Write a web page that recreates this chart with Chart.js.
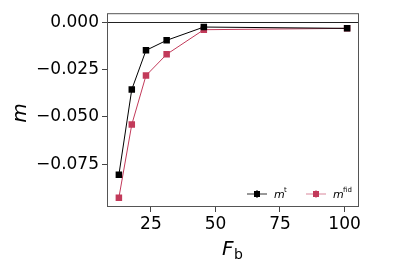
<!DOCTYPE html>
<html>
<head>
<meta charset="utf-8">
<script src="https://cdn.jsdelivr.net/npm/chart.js"></script>
<style>
    html, body { margin: 0; padding: 0; background: #fff; }
    #wrap { width: 399px; height: 266px; }
</style>
</head>
<body>
<div id="wrap"><canvas id="chart" width="399" height="266"></canvas></div>
<script>
// values
const fb = [12.6, 17.6, 23.1, 31.1, 45.5, 101];
const mTrue = [-0.0805, -0.0355, -0.0149, -0.0096, -0.0026, -0.0033];
const mFid = [-0.0926, -0.0540, -0.0282, -0.0170, -0.0040, -0.0033];
const xTicks = [25, 50, 75, 100];
const yTicks = [0, -0.025, -0.05, -0.075];

const RED = '#c23a5a';
const FONT = '"DejaVu Sans", sans-serif';

function pts(ys) {
    return fb.map((x, i) => ({ x: x, y: ys[i] }));
}

// frame, zero line, axis titles and legend
const extras = {
    id: 'extras',
    afterDraw(chart) {
        const ctx = chart.ctx;
        const a = chart.chartArea;
        const y0 = chart.scales.y.getPixelForValue(0);
        ctx.save();
        ctx.strokeStyle = '#222';
        ctx.lineWidth = 1;
        ctx.beginPath();
        ctx.moveTo(a.left, Math.round(y0) + 0.5);
        ctx.lineTo(a.right, Math.round(y0) + 0.5);
        ctx.stroke();

        ctx.strokeStyle = '#555';
        ctx.strokeRect(a.left + 0.5, a.top + 0.5, a.right - a.left - 1, a.bottom - a.top - 1);

        ctx.fillStyle = '#000';
        ctx.textBaseline = 'alphabetic';
        // y title
        ctx.save();
        ctx.translate(26, 113);
        ctx.rotate(-Math.PI / 2);
        ctx.font = 'italic 20px ' + FONT;
        ctx.textAlign = 'center';
        ctx.fillText('m', 0, 0);
        ctx.restore();
        // x title
        ctx.font = 'italic 20px ' + FONT;
        ctx.textAlign = 'left';
        ctx.fillText('F', 222, 255);
        ctx.font = '14px ' + FONT;
        ctx.fillText('b', 234, 259);

        // legend
        function entry(x, color, alpha, sup) {
            const y = 194;
            ctx.globalAlpha = alpha;
            ctx.strokeStyle = color;
            ctx.lineWidth = 1.2;
            ctx.beginPath();
            ctx.moveTo(x, y); ctx.lineTo(x + 20, y);
            ctx.moveTo(x + 10, y - 4); ctx.lineTo(x + 10, y + 4);
            ctx.stroke();
            ctx.globalAlpha = 1;
            ctx.fillStyle = color;
            ctx.fillRect(x + 7, y - 3, 6, 6);
            ctx.fillStyle = '#000';
            ctx.font = 'italic 11px ' + FONT;
            ctx.fillText('m', x + 27, y + 4);
            ctx.font = '7px ' + FONT;
            ctx.fillText(sup, x + 37, y - 2);
        }
        entry(247, '#000', 0.8, 't');
        entry(306, RED, 0.6, 'fid');
        ctx.restore();
    }
};

new Chart(document.getElementById('chart'), {
    type: 'scatter',
    data: {
        datasets: [
            {
                label: 'm_t',
                data: pts(mTrue),
                showLine: true,
                borderColor: '#000',
                backgroundColor: '#000',
                borderWidth: 1,
                pointStyle: 'rect',
                pointRadius: 4.6,
                pointBorderWidth: 0
            },
            {
                label: 'm_fid',
                data: pts(mFid),
                showLine: true,
                borderColor: RED,
                backgroundColor: RED,
                borderWidth: 1,
                pointStyle: 'rect',
                pointRadius: 4.6,
                pointBorderWidth: 0
            }
        ]
    },
    options: {
        responsive: false,
        animation: false,
        layout: { padding: { top: 13, right: 40, left: 0, bottom: 0 } },
        plugins: {
            legend: { display: false },
            tooltip: { enabled: false }
        },
        scales: {
            x: {
                type: 'linear',
                min: 8,
                max: 105.6,
                afterBuildTicks: s => { s.ticks = xTicks.map(v => ({ value: v })); },
                afterFit: s => { s.height = 59; },
                grid: { drawOnChartArea: false, color: '#444', tickLength: 5 },
                border: { display: false },
                ticks: {
                    color: '#000',
                    padding: 2,
                    maxRotation: 0,
                    font: { family: FONT, size: 17 },
                    callback: v => String(v)
                }
            },
            y: {
                type: 'linear',
                min: -0.0975,
                max: 0.0047,
                afterBuildTicks: s => { s.ticks = yTicks.map(v => ({ value: v })); },
                afterFit: s => { s.width = 107; },
                grid: { drawOnChartArea: false, color: '#444', tickLength: 5 },
                border: { display: false },
                ticks: {
                    color: '#000',
                    padding: 3,
                    font: { family: FONT, size: 17 },
                    callback: v => (v < 0 ? '\u2212' : '') + Math.abs(v).toFixed(3)
                }
            }
        }
    },
    plugins: [extras]
});
</script>
</body>
</html>
